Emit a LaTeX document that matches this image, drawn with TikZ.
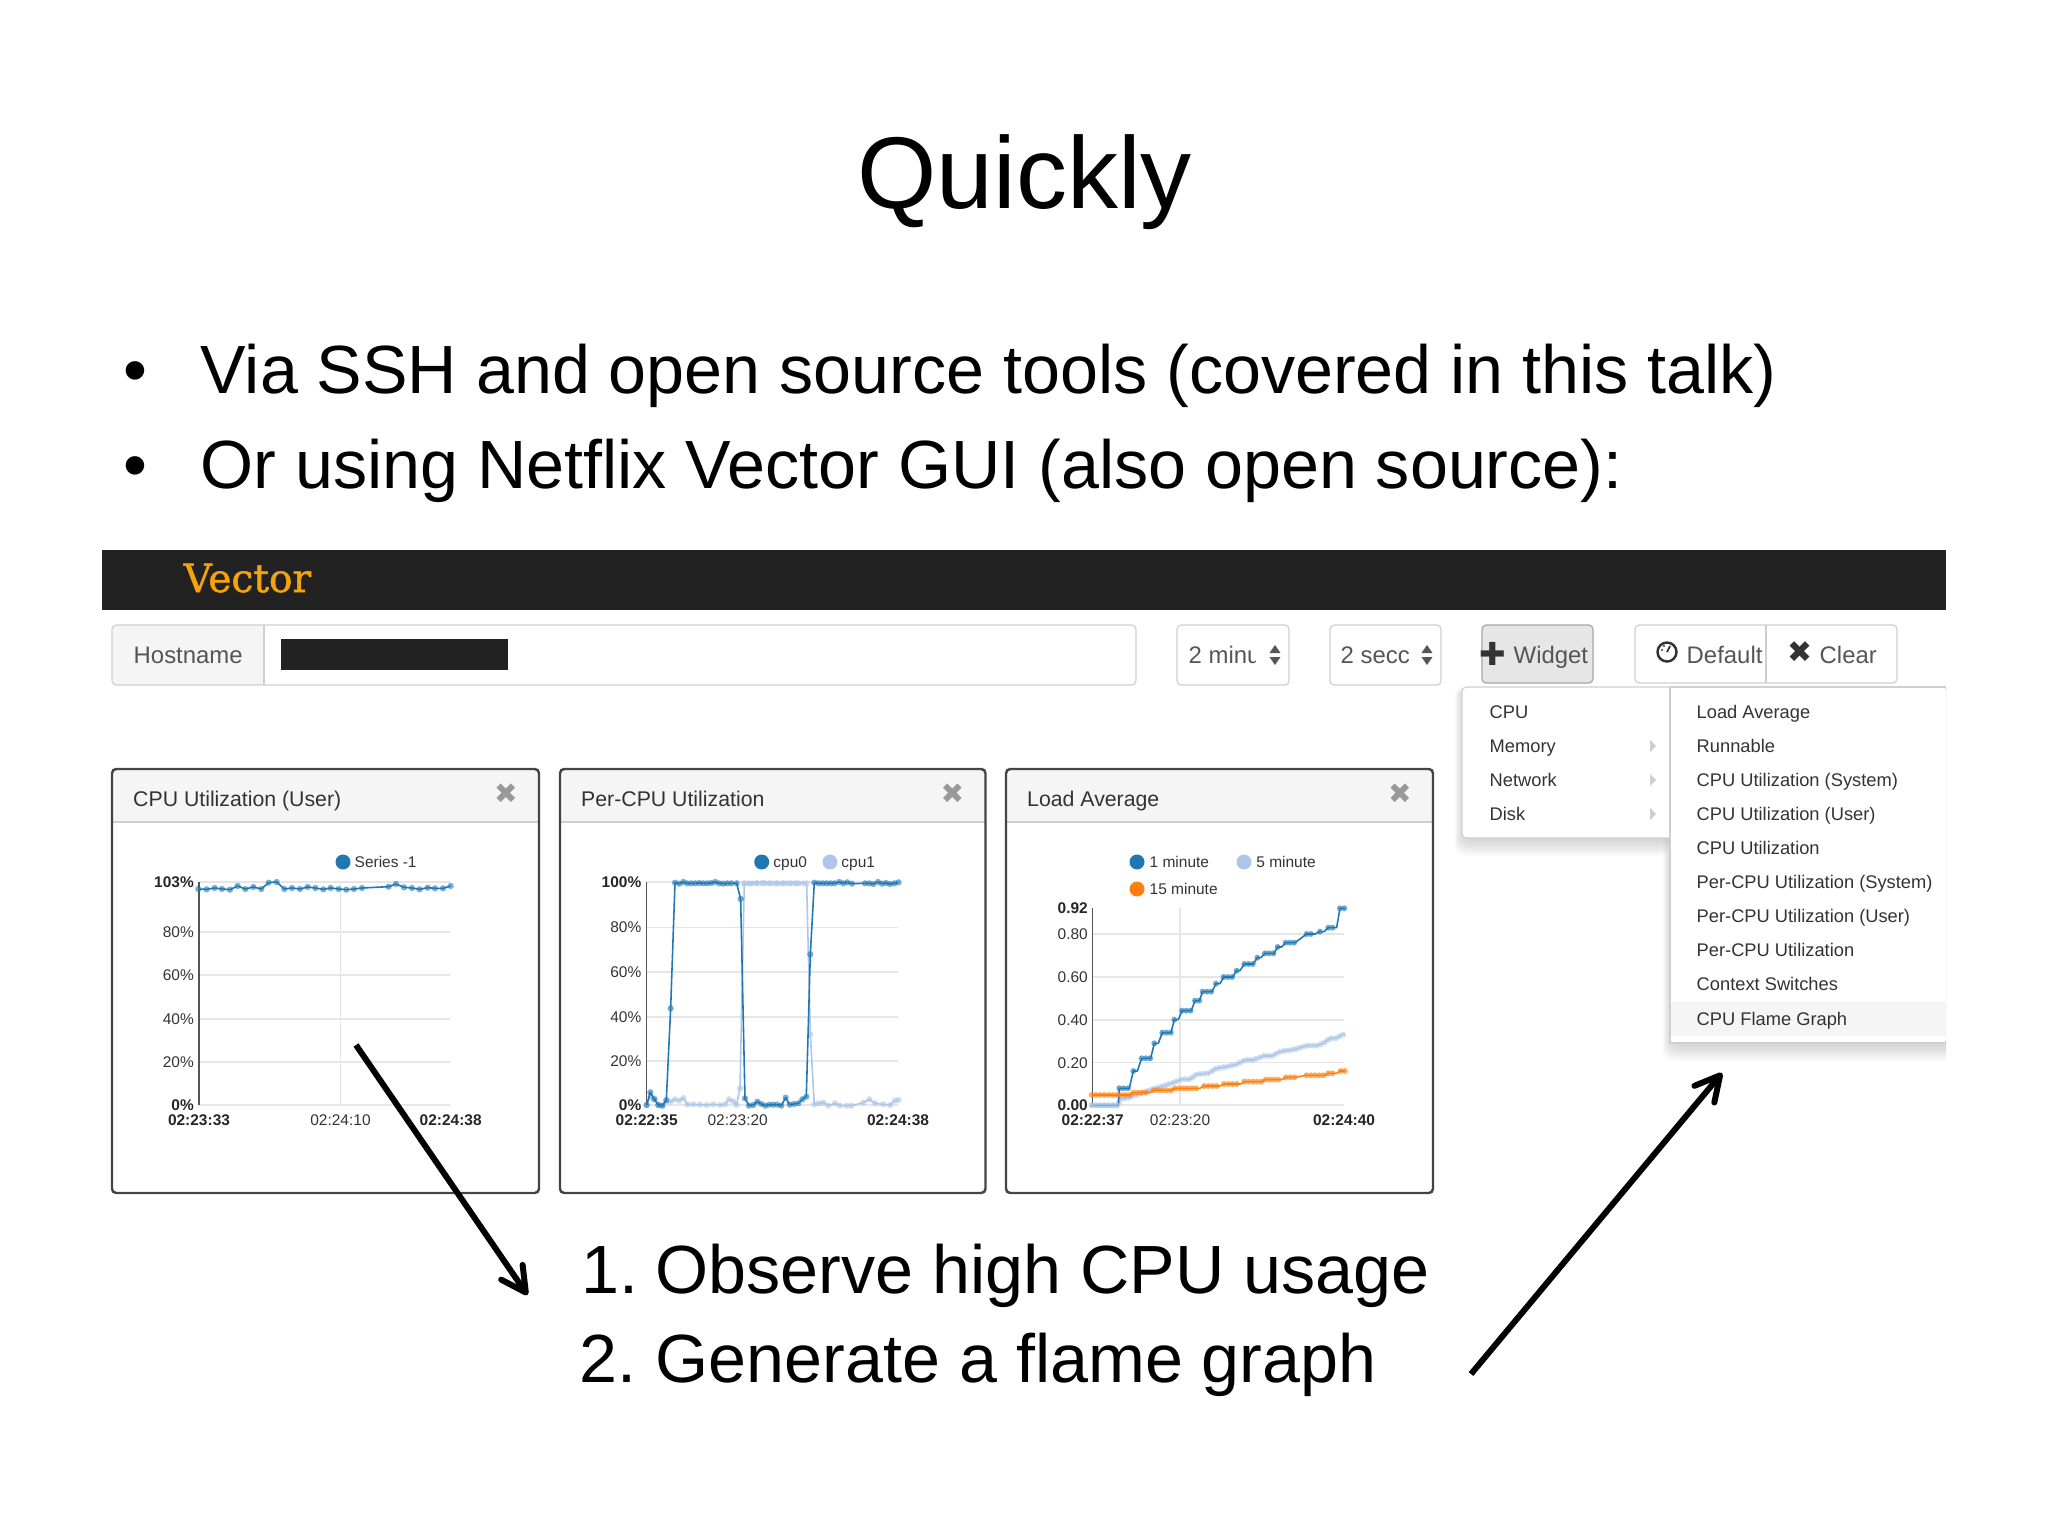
\documentclass[tikz,border=0pt]{standalone}
\usepackage{fontspec}
\setmainfont{Liberation Sans}
\newfontfamily\slabfont[FakeBold=1.3]{DejaVu Serif}
\newfontfamily\iconfont{DejaVu Sans}
\usetikzlibrary{arrows.meta,calc,positioning}
\usepackage{xcolor}
\definecolor{vorange}{HTML}{f5a30a}
\definecolor{barblack}{HTML}{222222}
\definecolor{uigray}{HTML}{555555}
\definecolor{uidark}{HTML}{333333}
\definecolor{uiline}{HTML}{cfcfcf}
\definecolor{gridgray}{HTML}{e6e6e6}
\definecolor{headgray}{HTML}{f5f5f5}
\definecolor{cpublue}{HTML}{1f77b4}
\definecolor{cpupale}{HTML}{aec7e8}
\definecolor{loadorange}{HTML}{ff7f0e}

\tikzset{
      slidetext/.style = {anchor=base west, inner sep=0pt, font=\fontsize{19.4}{23}\selectfont},
      uibox/.style = {draw=uiline, line width=0.35pt, rounded corners=1.2pt},
      uilab/.style = {anchor=west, inner sep=0pt, text height=5.78pt, text depth=1.02pt, text=uigray, font=\fontsize{6.8}{8}\selectfont},
      panelbox/.style = {draw=uigray!80!black, line width=0.7pt, rounded corners=1.2pt},
      paneltitle/.style = {anchor=west, inner sep=0pt, text height=5.14pt, text depth=0.91pt, text=uidark, font=\fontsize{6.05}{7}\selectfont},
      closex/.style = {inner sep=0pt, text=gray!80, font=\iconfont\fontsize{8}{9}\selectfont},
      ticklab/.style = {anchor=east, inner sep=0pt, text height=3.74pt, text depth=0.66pt, text=uidark, font=\fontsize{4.4}{5}\selectfont},
      boldlab/.style = {ticklab, text=black!85, font=\bfseries\fontsize{4.4}{5}\selectfont},
      timelab/.style = {ticklab, anchor=center},
      boldtime/.style = {boldlab, anchor=center},
      legendlab/.style = {ticklab, anchor=west},
      menuitem/.style = {anchor=west, inner sep=0pt, text height=4.42pt, text depth=0.78pt, text=uidark, font=\fontsize{5.2}{6}\selectfont},
      gridrule/.style = {draw=gridgray, line width=0.3pt},
      axisrule/.style = {draw=uigray, line width=0.35pt},
      thinplot/.style = {line width=0.45pt, line join=round},
      beads/.style = {line width=1.7pt, line cap=round, opacity=0.65, dash pattern=on 0pt off 1.2pt},
      dotplot/.style = {thinplot, mark=*, mark size=2.7pt, mark options={draw opacity=0, fill opacity=0.6}},
      bigarrow/.style = {line width=1.7pt, -{Straight Barb[length=7pt, width=7.4pt, round]}},
}

\begin{document}
\begin{tikzpicture}[x=0.01cm, y=-0.01cm]
      \useasboundingbox (0,0) rectangle (2048,1536);

      % Slide text
      \node[anchor=base, inner sep=0pt, font=\fontsize{29}{34}\selectfont] (slideTitle) at (1024.5,208) {Quickly};
      \node[slidetext] (bulletA) at (123,393) {•};
      \node[slidetext] (lineA) at (200,393) {Via SSH and open source tools (covered in this talk)};
      \node[slidetext] (bulletB) at (123,488) {•};
      \node[slidetext] (lineB) at (200,488) {Or using Netflix Vector GUI (also open source):};

      % Top bar
      \fill[barblack] (102,550) rectangle (1946,610);
      \node[anchor=base west, inner sep=0pt, text=vorange, font=\slabfont\fontsize{11.1}{12}\selectfont] (vectorName) at (183,592) {Vector};

      % Hostname field
      \fill[headgray, rounded corners=1.2pt] (112,625) rectangle (264,685);
      \draw[uibox] (112,625) rectangle (1136,685);
      \draw[uiline, line width=0.35pt] (264,625) -- (264,685);
      \node[uilab] (hostLab) at (133,655) {Hostname};
      \fill[barblack] (281,639) rectangle (508,670);

      % Select boxes, text cut off at the arrows
      \foreach \xa/\xb/\xt/\xc/\xu/\lab in {1177/1289/1188/1255/1275/2 minu, 1330/1441/1340/1408/1427/2 secc} {
            \draw[uibox] (\xa,625) rectangle (\xb,685);
            \begin{scope}
                  \clip (\xt,625) rectangle (\xc,685);
                  \node[uilab] (sel\xa) at (\xt,655) {\lab};
            \end{scope}
            \fill[uigray] (\xu-5.5,653) -- (\xu,645) -- (\xu+5.5,653) -- cycle;
            \fill[uigray] (\xu-5.5,657) -- (\xu,665) -- (\xu+5.5,657) -- cycle;
      }

      % Buttons
      \fill[gridgray, rounded corners=1.2pt] (1482,625) rectangle (1593,683);
      \draw[uibox, draw=uiline!80!black] (1482,625) rectangle (1593,683);
      \node[inner sep=0pt, text=uidark, font=\iconfont\fontsize{9}{10}\selectfont] (plusIcon) at (1493,654) {✚};
      \node[uilab] (widgetLab) at (1513,655) {Widget};
      \draw[uibox] (1635,625) rectangle (1897,683);
      \draw[uiline, line width=0.35pt] (1766,625) -- (1766,683);
      \draw[uidark, line width=0.7pt] (1667,652) circle (9.5);
      \draw[uidark, line width=0.5pt] (1667,652) -- (1670,646);
      \fill[uidark] (1662,650) circle (1.2) (1664,646) circle (1.2);
      \node[uilab] (defaultLab) at (1686,655) {Default};
      \node[inner sep=0pt, text=uidark, font=\iconfont\fontsize{8.5}{10}\selectfont] (clearIcon) at (1800,652) {✖};
      \node[uilab] (clearLab) at (1819,655) {Clear};

      % Widget menu with soft shadow
      \begin{scope}
            \clip (1440,688) rectangle (1946,1090);
            \foreach \d in {1,3,...,15} {
                  \fill[black, opacity=0.02, rounded corners=3pt] (1462-\d/2,687) rectangle (1670,838+\d+3);
                  \fill[black, opacity=0.02, rounded corners=3pt] (1670-\d/2,687) rectangle (1960,1043+\d+3);
            }
      \end{scope}
      \fill[white, rounded corners=1.2pt] (1462,687) rectangle (1680,838);
      \fill[white, rounded corners=1.2pt] (1670,687) rectangle (1946,1043);
      \draw[uiline, line width=0.3pt] (1946,687) -- (1670,687) -- (1670,1043) -- (1946,1043);
      \draw[uiline, line width=0.3pt, rounded corners=1.2pt] (1670,687) -- (1462,687) -- (1462,838) -- (1670,838);
      \fill[headgray] (1671,1002) rectangle (1946,1036);

      \foreach \y/\lab in {712/CPU, 746/Memory, 780/Network, 814/Disk} {
            \node[menuitem] (left\y) at (1489,\y) {\lab};
      }
      \foreach \y in {746,780,814} {
            \fill[uiline] (1650,\y-6) -- (1656,\y) -- (1650,\y+6) -- cycle;
      }
      \foreach \y/\lab in {712/Load Average, 746/Runnable, 780/CPU Utilization (System), 814/CPU Utilization (User),
                  848/CPU Utilization, 882/Per-CPU Utilization (System), 916/Per-CPU Utilization (User),
                  950/Per-CPU Utilization, 984/Context Switches, 1019/CPU Flame Graph} {
            \node[menuitem] (right\y) at (1696,\y) {\lab};
      }

      % Panels
      \foreach \xa/\xb/\ttl in {112/539/CPU Utilization (User), 560/985.5/Per-CPU Utilization, 1006/1433/Load Average} {
            \fill[headgray, rounded corners=1.2pt] (\xa,769) rectangle (\xb,822);
            \draw[gridgray!90!black, line width=0.35pt] (\xa,822) -- (\xb,822);
            \draw[panelbox] (\xa,769) rectangle (\xb,1193);
            \node[paneltitle] (title\xa) at (\xa+20.5,799) {\ttl};
            \node[closex] (close\xa) at (\xb-33,794) {✖};
      }

      % First chart
      \foreach \y in {882,932,975,1019,1062,1105} {
            \draw[gridrule] (199,\y) -- (450,\y);
      }
      \draw[gridrule] (340.5,882) -- (340.5,1105);
      \draw[axisrule] (199,882) -- (199,1105);
      \node[boldlab] (userTop) at (194.5,882) {103\%};
      \foreach \y/\lab in {932/80, 975/60, 1019/40, 1062/20} {
            \node[ticklab] (user\lab) at (194.5,\y) {\lab\%};
      }
      \node[boldlab] (userZero) at (194.5,1105) {0\%};
      \node[boldtime] (userStart) at (199,1120) {02:23:33};
      \node[timelab] (userMid) at (340.5,1120) {02:24:10};
      \node[boldtime] (userEnd) at (450.7,1120) {02:24:38};
      \fill[cpublue] (343,862) circle (7.5);
      \node[legendlab] (userSeries) at (354,862) {Series -1};

      \begin{scope}[shift={(100,760)}, scale=0.3333]
            \draw[cpublue, dotplot] plot coordinates {
                  (295,387) (320,388) (344,384) (366,387) (390,389) (413,378) (436,387) (460,381)
                  (484,387) (506,368) (530,366) (553,387) (576,384) (600,387) (623,381) (646,384)
                  (670,388) (692,384) (716,387) (739,389) (762,387) (786,384) (866,380) (888,372)
                  (912,382) (936,384) (959,388) (983,383) (1005,385) (1029,385) (1052,378)
            };
      \end{scope}

      % Second chart
      \foreach \y in {882,927.5,972,1017,1061,1105} {
            \draw[gridrule] (646.7,\y) -- (898,\y);
      }
      \draw[axisrule] (646.7,882) -- (646.7,1105);
      \node[boldlab] (perTop) at (642,882) {100\%};
      \foreach \y/\lab in {927.5/80, 972/60, 1017/40, 1061/20} {
            \node[ticklab] (per\lab) at (642,\y) {\lab\%};
      }
      \node[boldlab] (perZero) at (642,1105) {0\%};
      \node[boldtime] (perStart) at (646.7,1120) {02:22:35};
      \node[timelab] (perMid) at (737.7,1120) {02:23:20};
      \node[boldtime] (perEnd) at (898,1120) {02:24:38};
      \fill[cpublue] (761.7,862) circle (7.5);
      \node[legendlab] (perCpuA) at (772.7,862) {cpu0};
      \fill[cpupale] (830,862) circle (7.5);
      \node[legendlab] (perCpuB) at (840.7,862) {cpu1};

      \begin{scope}[shift={(550,760)}, scale=0.3333]
            % cpu1 goes first, cpu0 sits on top
            \draw[cpupale, dotplot] plot coordinates {
                  (290,1035) (301,1010) (313,1015) (325,1035) (337,1037) (349,1025) (362,1025) (375,1018)
                  (388,1022) (400,1014) (412,1033) (430,1033) (450,1034) (470,1035) (490,1033) (510,1035)
                  (525,1033) (537,1018) (550,1024) (560,1035) (570,985) (583,370) (600,371) (620,369)
                  (640,368) (660,370) (680,370) (700,370) (720,370) (740,370) (770,370) (781,823)
                  (793,1033) (806,1030) (820,1028) (835,1037) (855,1030) (870,1037) (890,1037) (905,1037)
                  (940,1028) (958,1018) (975,1030) (1000,1033) (1020,1035) (1035,1022) (1046,1020)
            };
            \draw[cpupale, beads] (583,370) -- (770,370);
            \draw[cpublue, dotplot] plot coordinates {
                  (290,1035) (301,997) (313,1018) (325,1035) (337,1037) (349,1020) (362,745) (375,368)
                  (388,371) (400,366) (412,370) (424,370) (436,370) (448,369) (460,370) (472,370)
                  (484,369) (496,366) (508,370) (520,371) (532,370) (544,370) (560,370) (572,417)
                  (585,1015) (597,1037) (610,1035) (622,1025) (634,1032) (646,1037) (658,1034) (670,1034)
                  (682,1034) (694,1037) (707,1013) (719,1034) (732,1032) (745,1030) (757,1018) (769,1010)
                  (781,583) (793,368) (806,370) (818,370) (830,370) (842,370) (854,370) (868,366)
                  (880,370) (892,367) (906,371) (945,370) (958,370) (970,372) (984,366) (996,371)
                  (1008,369) (1020,372) (1034,370) (1046,367)
            };
      \end{scope}

      % Third chart
      \foreach \y in {934,977,1020,1062.7,1105} {
            \draw[gridrule] (1092.7,\y) -- (1344,\y);
      }
      \draw[gridrule] (1180,908) -- (1180,1105);
      \draw[axisrule] (1092.7,908) -- (1092.7,1105);
      \node[boldlab] (loadTop) at (1088.5,908) {0.92};
      \foreach \y/\lab in {934/0.80, 977/0.60, 1020/0.40, 1062.7/0.20} {
            \node[ticklab] (load\lab) at (1088.5,\y) {\lab};
      }
      \node[boldlab] (loadZero) at (1088.5,1105) {0.00};
      \node[boldtime] (loadStart) at (1092.7,1120) {02:22:37};
      \node[timelab] (loadMid) at (1180,1120) {02:23:20};
      \node[boldtime] (loadEnd) at (1344,1120) {02:24:40};
      \fill[cpublue] (1137,862) circle (7.5);
      \node[legendlab] (loadOne) at (1149,862) {1 minute};
      \fill[cpupale] (1244,862) circle (7.5);
      \node[legendlab] (loadFive) at (1255.7,862) {5 minute};
      \fill[loadorange] (1137,889) circle (7.5);
      \node[legendlab] (loadFifteen) at (1149,889) {15 minute};

      \begin{scope}[shift={(1000,760)}, scale=0.3333]
            % 5 minute
            \draw[cpupale, thinplot] plot coordinates {
                  (275,1036) (355,1036) (358,1018) (385,1013) (410,1005) (450,990) (490,978) (520,968) (545,958)
                  (570,958) (590,943) (625,940) (650,925) (680,920) (710,913) (735,900) (760,900) (790,888)
                  (815,888) (840,875) (885,868) (920,857) (950,857) (970,850) (990,835) (1010,835) (1025,824) (1035,824)
            };
            \draw[cpupale, beads] plot coordinates {
                  (275,1036) (355,1036) (358,1018) (385,1013) (410,1005) (450,990) (490,978) (520,968) (545,958)
                  (570,958) (590,943) (625,940) (650,925) (680,920) (710,913) (735,900) (760,900) (790,888)
                  (815,888) (840,875) (885,868) (920,857) (950,857) (970,850) (990,835) (1010,835) (1025,824) (1035,824)
            };
            % 1 minute
            \draw[cpublue, thinplot] (275,1036)
                  \foreach \xa/\xb/\yy in {275/355/1036, 358/388/985, 400/412/933, 425/452/895, 463/475/850, 487/513/818,
                        523/535/779, 546/574/752, 585/598/722, 608/636/695, 648/660/671, 671/698/651, 710/720/632,
                        733/760/612, 772/783/593, 795/822/580, 833/845/561, 857/885/548, 920/945/522, 960/972/515,
                        985/1010/503, 1020/1035/445} { -- (\xa,\yy) -- (\xb,\yy) };
            \foreach \xa/\xb/\yy in {358/388/985, 400/412/933, 425/452/895, 463/475/850, 487/513/818,
                        523/535/779, 546/574/752, 585/598/722, 608/636/695, 648/660/671, 671/698/651, 710/720/632,
                        733/760/612, 772/783/593, 795/822/580, 833/845/561, 857/885/548, 920/945/522, 960/972/515,
                        985/1010/503, 1020/1035/445} {
                  \draw[cpublue, beads] (\xa,\yy) -- (\xb,\yy);
            }
            \draw[cpupale, beads] (275,1036) -- (355,1036);
            % 15 minute
            \draw[loadorange, thinplot] (275,1005)
                  \foreach \xa/\xb/\yy in {275/390/1005, 400/450/998, 462/515/991, 525/600/985, 612/660/978, 672/722/972,
                        733/785/965, 797/845/959, 858/885/952, 920/975/946, 985/1010/940, 1022/1035/933} { -- (\xa,\yy) -- (\xb,\yy) };
            \foreach \xa/\xb/\yy in {275/390/1005, 400/450/998, 462/515/991, 525/600/985, 612/660/978, 672/722/972,
                        733/785/965, 797/845/959, 858/885/952, 920/975/946, 985/1010/940, 1022/1035/933} {
                  \draw[loadorange, beads] (\xa,\yy) -- (\xb,\yy);
            }
      \end{scope}

      % Steps
      \node[slidetext] (stepA) at (581,1293) {1. \hspace{-2.3pt}Observe high CPU usage};
      \node[slidetext] (stepB) at (579,1382) {2. \hspace{-1.7pt}Generate a flame graph};

      % Arrows
      \coordinate (observeFrom) at (356,1045);
      \coordinate (observeTo) at (527.5,1295);
      \coordinate (flameFrom) at (1471,1374);
      \coordinate (flameTo) at (1722,1073);
      \draw[bigarrow] (observeFrom) -- (observeTo);
      \draw[bigarrow] (flameFrom) -- (flameTo);

\end{tikzpicture}
\end{document}
